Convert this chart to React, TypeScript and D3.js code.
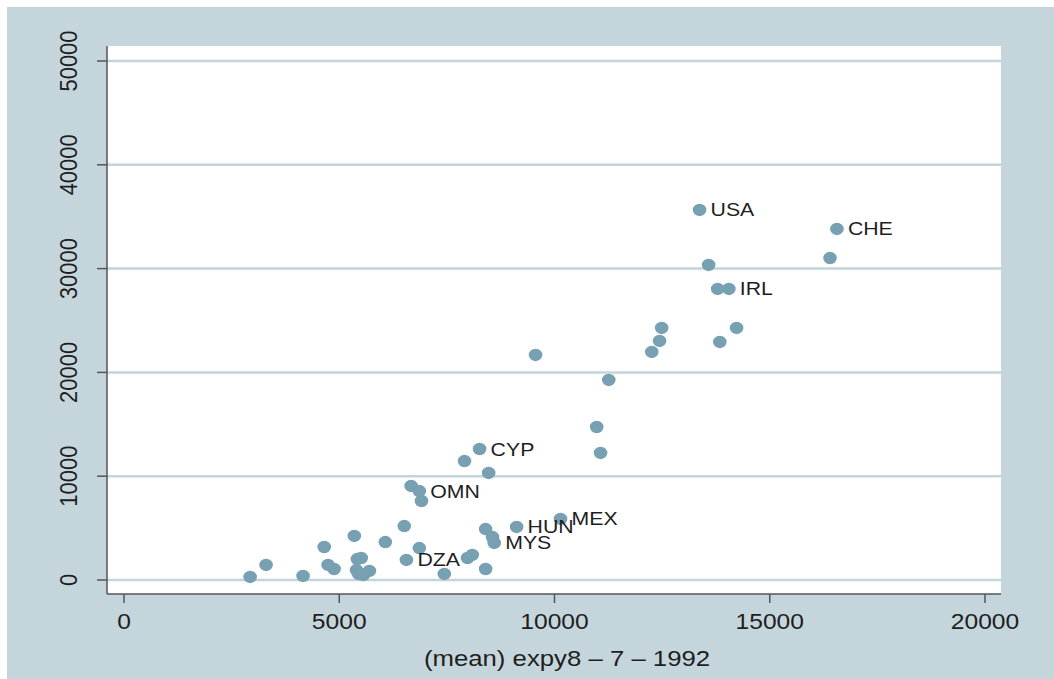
import React, { useEffect, useRef } from "react";
import * as d3 from "d3";

// (mean) expy8-7-1992 vs income, one point per country
const expy = [
  2930, 3300, 4160, 4650, 4740, 4880, 5350, 5420, 5510, 5400, 5560, 5700, 5450,
  6070, 6510, 6560, 6670, 6860, 6910, 6860, 7440, 7910, 8260, 8470, 7980, 8090,
  8400, 8560, 8600, 8400, 9120, 10140, 9560, 10980, 11070, 11260, 12260, 12440,
  12490, 13370, 13580, 13790, 14050, 13840, 14230, 16400, 16560
];
const income = [
  290, 1450, 390, 3180, 1450, 1060, 4240, 2020, 2120, 960, 480, 870, 580,
  3660, 5200, 1930, 9060, 8570, 7610, 3080, 580, 11460, 12620, 10310, 2120, 2410,
  4910, 4140, 3570, 1060, 5110, 5880, 21680, 14740, 12240, 19270, 21970, 23030,
  24280, 35650, 30350, 28040, 28040, 22930, 24280, 31020, 33820
];
const labels = [
  "", "", "", "", "", "", "", "", "", "", "", "", "",
  "", "", "DZA", "", "OMN", "", "", "", "", "CYP", "", "", "",
  "", "", "MYS", "", "HUN", "MEX", "", "", "", "", "", "",
  "", "USA", "", "", "IRL", "", "", "", "CHE"
];
const xTicks = [0, 5000, 10000, 15000, 20000];
const yTicks = [0, 10000, 20000, 30000, 40000, 50000];
const xTitle = "(mean) expy8 \u2013 7 \u2013 1992";

const W = 1054;
const H = 679;
const bg = "#c5d5dc";
const grid = "#c2d4dc";
const dot = "#77a1b2";
const ink = "#1e1e1e";
const font = "'Liberation Sans', Arial, Helvetica, sans-serif";
const sx = 1.12; // reference text is a bit wide

const App = () => {
  const ref = useRef<SVGSVGElement>(null);

  useEffect(() => {
    const svg = d3.select(ref.current);
    svg.selectAll("*").remove();

    const plot = { left: 107, top: 46, right: 1001, bottom: 594 };
    const x = d3.scaleLinear().domain([0, 20000]).range([124, 985]);
    const y = d3.scaleLinear().domain([0, 50000]).range([580, 61]);

    svg.append("rect").attr("x", 7).attr("y", 7)
      .attr("width", W - 7).attr("height", H - 7).attr("fill", bg);
    svg.append("rect").attr("x", plot.left).attr("y", plot.top)
      .attr("width", plot.right - plot.left).attr("height", plot.bottom - plot.top)
      .attr("fill", "white");

    // gridlines
    svg.append("g").selectAll("line").data(yTicks).join("line")
      .attr("x1", plot.left).attr("x2", plot.right)
      .attr("y1", d => y(d)).attr("y2", d => y(d))
      .attr("stroke", grid).attr("stroke-width", 2.5);

    // axes
    const axes = svg.append("g").attr("stroke", "#555").attr("stroke-width", 1.5);
    axes.append("line").attr("x1", plot.left).attr("x2", plot.left)
      .attr("y1", plot.top).attr("y2", plot.bottom);
    axes.append("line").attr("x1", plot.left).attr("x2", plot.right)
      .attr("y1", plot.bottom).attr("y2", plot.bottom);
    axes.selectAll(".yt").data(yTicks).join("line").attr("class", "yt")
      .attr("x1", plot.left - 10).attr("x2", plot.left)
      .attr("y1", d => y(d)).attr("y2", d => y(d));
    axes.selectAll(".xt").data(xTicks).join("line").attr("class", "xt")
      .attr("x1", d => x(d)).attr("x2", d => x(d))
      .attr("y1", plot.bottom).attr("y2", plot.bottom + 9);

    // tick labels
    svg.append("g").selectAll("text").data(xTicks).join("text")
      .attr("transform", d => `translate(${x(d)},629) scale(${sx},1)`)
      .attr("text-anchor", "middle").attr("font-family", font)
      .attr("font-size", 22).attr("fill", ink).text(d => d);
    svg.append("g").selectAll("text").data(yTicks).join("text")
      .attr("transform", d => `translate(77,${y(d)}) scale(${sx},1) rotate(-90)`)
      .attr("text-anchor", "middle").attr("font-family", font)
      .attr("font-size", 22).attr("fill", ink).text(d => d);

    // axis title
    svg.append("text")
      .attr("transform", `translate(567,666) scale(${sx},1)`)
      .attr("text-anchor", "middle").attr("font-family", font)
      .attr("font-size", 23).attr("fill", ink).text(xTitle);

    // points
    const idx = d3.range(expy.length);
    svg.append("g").selectAll("ellipse").data(idx).join("ellipse")
      .attr("cx", i => x(expy[i])).attr("cy", i => y(income[i]))
      .attr("rx", 6.8).attr("ry", 6.2).attr("fill", dot);

    // marker labels
    svg.append("g").selectAll("text").data(idx.filter(i => labels[i] !== "")).join("text")
      .attr("transform", i => `translate(${x(expy[i]) + 11},${y(income[i]) + 6.5}) scale(${sx},1)`)
      .attr("font-family", font).attr("font-size", 19).attr("fill", ink)
      .text(i => labels[i]);
  }, []);

  return (
    <svg ref={ref} width={W} height={H}
      style={{ position: "absolute", left: 0, top: 0, background: "white" }} />
  );
};

export default App;
